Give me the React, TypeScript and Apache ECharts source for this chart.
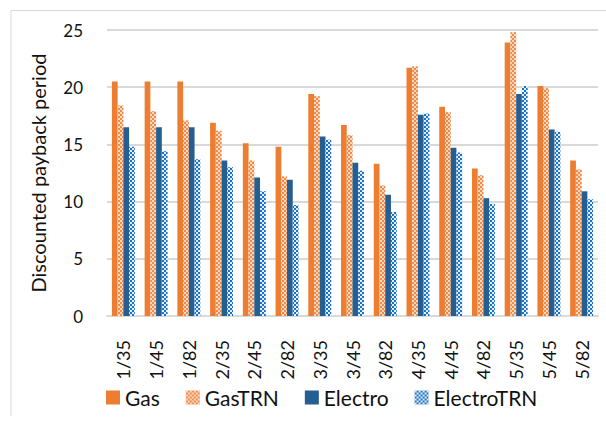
import React, { useEffect, useRef } from "react";
import * as echarts from "echarts";

const categories = ["1/35", "1/45", "1/82", "2/35", "2/45", "2/82", "3/35", "3/45", "3/82", "4/35", "4/45", "4/82", "5/35", "5/45", "5/82"];
const gas = [20.5, 20.5, 20.5, 16.9, 15.1, 14.8, 19.4, 16.7, 13.3, 21.7, 18.3, 12.9, 23.9, 20.1, 13.6];
const gasTRN = [18.4, 17.9, 17.1, 16.2, 13.6, 12.2, 19.2, 15.8, 11.4, 21.8, 17.8, 12.3, 24.8, 19.9, 12.8];
const electro = [16.5, 16.5, 16.5, 13.6, 12.1, 11.9, 15.7, 13.4, 10.6, 17.6, 14.7, 10.3, 19.4, 16.3, 10.9];
const electroTRN = [14.8, 14.4, 13.7, 13.0, 10.9, 9.7, 15.4, 12.7, 9.1, 17.7, 14.3, 9.8, 20.1, 16.1, 10.2];
const yTicks = { min: 0, max: 25, interval: 5 };

const FONT = "Lato, 'Noto Sans', sans-serif";

export default function App() {
  const ref = useRef<HTMLDivElement>(null);
  useEffect(() => {
    if (!ref.current) return;
    const chart = echarts.init(ref.current, null, { renderer: "svg" });
    const checker = (color: string) => ({
      symbol: "rect",
      symbolSize: 1,
      color,
      dashArrayX: [[2, 2], [0, 2, 2, 0]],
      dashArrayY: [2, 0],
      rotation: 0,
    });
    chart.setOption({
      animation: false,
      backgroundColor: "#ffffff",
      textStyle: { fontFamily: FONT },
      grid: { left: 107, right: 8, top: 30, bottom: 105, containLabel: false },
      graphic: [
        { type: "line", shape: { x1: 11, y1: 10.5, x2: 606, y2: 10.5 }, style: { stroke: "#d9d9d9", lineWidth: 1 } },
        { type: "line", shape: { x1: 11, y1: 10.5, x2: 11, y2: 416 }, style: { stroke: "#d9d9d9", lineWidth: 1 } },
      ],
      legend: {
        left: 101,
        top: 382,
        itemWidth: 14,
        itemHeight: 14,
        itemGap: 26,
        icon: "rect",
        textStyle: { fontSize: 21, color: "#111", fontFamily: FONT },
        data: ["Gas", "GasTRN", "Electro", "ElectroTRN"],
      },
      xAxis: {
        type: "category",
        data: categories,
        axisLine: { lineStyle: { color: "#d9d9d9", width: 2 } },
        axisTick: { show: false },
        axisLabel: { rotate: 90, margin: 24, fontSize: 18, color: "#111", fontFamily: FONT },
      },
      yAxis: {
        type: "value",
        min: yTicks.min,
        max: yTicks.max,
        interval: yTicks.interval,
        name: "Discounted payback period",
        nameLocation: "middle",
        nameRotate: 90,
        nameGap: 59,
        nameTextStyle: { fontSize: 20, color: "#111", fontFamily: FONT },
        axisLine: { show: false },
        axisTick: { show: false },
        axisLabel: { fontSize: 17, color: "#111", margin: 24, fontFamily: FONT },
        splitLine: { lineStyle: { color: "#d9d9d9", width: 2 } },
      },
      series: [
        { name: "Gas", type: "bar", data: gas, barGap: "0%", barCategoryGap: "30%", itemStyle: { color: "#ed7d31" } },
        { name: "GasTRN", type: "bar", data: gasTRN, itemStyle: { color: "#fbd9c1", decal: checker("#ee8a4a") } },
        { name: "Electro", type: "bar", data: electro, itemStyle: { color: "#255e91" } },
        { name: "ElectroTRN", type: "bar", data: electroTRN, itemStyle: { color: "#e3eef9", decal: checker("#1a72c6") } },
      ],
    });
    return () => chart.dispose();
  }, []);
  return <div ref={ref} style={{ width: 606, height: 421, position: "absolute", left: 0, top: 0 }} />;
}
